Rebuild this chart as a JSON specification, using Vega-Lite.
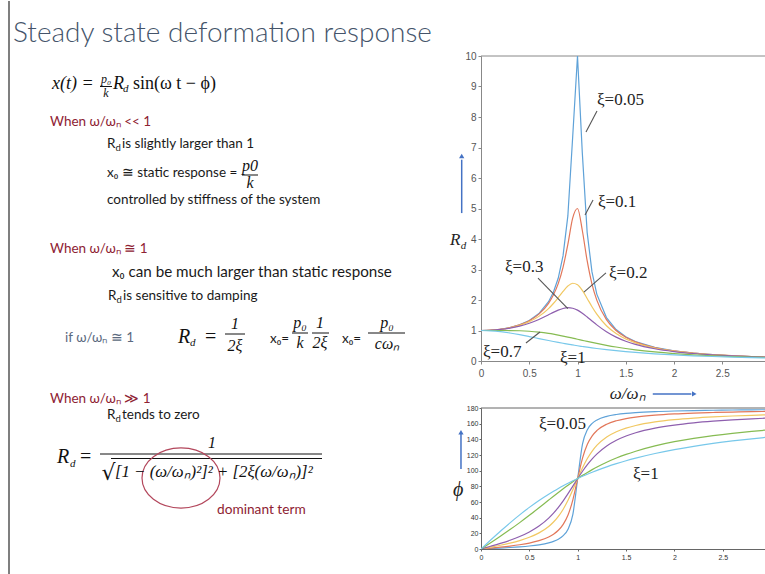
{
"$schema": "https://vega.github.io/schema/vega-lite/v6.json",
"padding": 0,
"background": "white",
"config": {"view": {"stroke": null}},
"datasets": {
"curves": [
{"z":"0.05","r":0,"R":1,"p":0},{"z":"0.05","r":0.1,"R":1.01,"p":0.58},{"z":"0.05","r":0.2,"R":1.041,"p":1.19},{"z":"0.05","r":0.3,"R":1.098,"p":1.89},{"z":"0.05","r":0.4,"R":1.189,"p":2.73},{"z":"0.05","r":0.5,"R":1.33,"p":3.81},{"z":"0.05","r":0.6,"R":1.556,"p":5.36},{"z":"0.05","r":0.7,"R":1.943,"p":7.82},{"z":"0.05","r":0.75,"R":2.253,"p":9.73},{"z":"0.05","r":0.8,"R":2.712,"p":12.53},{"z":"0.05","r":0.85,"R":3.446,"p":17.03},{"z":"0.05","r":0.9,"R":4.757,"p":25.35},{"z":"0.05","r":0.95,"R":7.346,"p":44.26},{"z":"0.05","r":1,"R":10,"p":90},{"z":"0.05","r":1.05,"R":6.815,"p":134.31},{"z":"0.05","r":1.1,"R":4.218,"p":152.35},{"z":"0.05","r":1.15,"R":2.921,"p":160.37},{"z":"0.05","r":1.2,"R":2.193,"p":164.74},{"z":"0.05","r":1.3,"R":1.424,"p":169.33},{"z":"0.05","r":1.4,"R":1.031,"p":171.7},{"z":"0.05","r":1.5,"R":0.794,"p":173.16},{"z":"0.05","r":1.6,"R":0.638,"p":174.14},{"z":"0.05","r":1.8,"R":0.445,"p":175.41},{"z":"0.05","r":2,"R":0.333,"p":176.19},{"z":"0.05","r":2.2,"R":0.26,"p":176.72},{"z":"0.05","r":2.4,"R":0.21,"p":177.11},{"z":"0.05","r":2.6,"R":0.173,"p":177.42},{"z":"0.05","r":2.8,"R":0.146,"p":177.66},{"z":"0.05","r":3,"R":0.125,"p":177.85},
{"z":"0.1","r":0,"R":1,"p":0},{"z":"0.1","r":0.1,"R":1.01,"p":1.16},{"z":"0.1","r":0.2,"R":1.041,"p":2.39},{"z":"0.1","r":0.3,"R":1.097,"p":3.77},{"z":"0.1","r":0.4,"R":1.185,"p":5.44},{"z":"0.1","r":0.5,"R":1.322,"p":7.59},{"z":"0.1","r":0.6,"R":1.536,"p":10.62},{"z":"0.1","r":0.7,"R":1.891,"p":15.35},{"z":"0.1","r":0.75,"R":2.162,"p":18.93},{"z":"0.1","r":0.8,"R":2.538,"p":23.96},{"z":"0.1","r":0.85,"R":3.073,"p":31.49},{"z":"0.1","r":0.9,"R":3.821,"p":43.45},{"z":"0.1","r":0.95,"R":4.683,"p":62.83},{"z":"0.1","r":1,"R":5,"p":90},{"z":"0.1","r":1.05,"R":4.279,"p":116.02},{"z":"0.1","r":1.1,"R":3.288,"p":133.67},{"z":"0.1","r":1.15,"R":2.524,"p":144.5},{"z":"0.1","r":1.2,"R":1.995,"p":151.39},{"z":"0.1","r":1.3,"R":1.356,"p":159.36},{"z":"0.1","r":1.4,"R":1,"p":163.74},{"z":"0.1","r":1.5,"R":0.778,"p":166.5},{"z":"0.1","r":1.6,"R":0.628,"p":168.41},{"z":"0.1","r":1.8,"R":0.441,"p":170.87},{"z":"0.1","r":2,"R":0.33,"p":172.41},{"z":"0.1","r":2.2,"R":0.259,"p":173.46},{"z":"0.1","r":2.4,"R":0.209,"p":174.24},{"z":"0.1","r":2.6,"R":0.173,"p":174.84},{"z":"0.1","r":2.8,"R":0.146,"p":175.32},{"z":"0.1","r":3,"R":0.125,"p":175.71},
{"z":"0.2","r":0,"R":1,"p":0},{"z":"0.2","r":0.1,"R":1.009,"p":2.31},{"z":"0.2","r":0.2,"R":1.038,"p":4.76},{"z":"0.2","r":0.3,"R":1.089,"p":7.51},{"z":"0.2","r":0.4,"R":1.169,"p":10.78},{"z":"0.2","r":0.5,"R":1.288,"p":14.93},{"z":"0.2","r":0.6,"R":1.463,"p":20.56},{"z":"0.2","r":0.7,"R":1.719,"p":28.77},{"z":"0.2","r":0.75,"R":1.885,"p":34.44},{"z":"0.2","r":0.8,"R":2.076,"p":41.63},{"z":"0.2","r":0.85,"R":2.279,"p":50.78},{"z":"0.2","r":0.9,"R":2.457,"p":62.18},{"z":"0.2","r":0.95,"R":2.549,"p":75.61},{"z":"0.2","r":1,"R":2.5,"p":90},{"z":"0.2","r":1.05,"R":2.313,"p":103.71},{"z":"0.2","r":1.1,"R":2.051,"p":115.51},{"z":"0.2","r":1.15,"R":1.78,"p":125.03},{"z":"0.2","r":1.2,"R":1.536,"p":132.51},{"z":"0.2","r":1.3,"R":1.157,"p":143},{"z":"0.2","r":1.4,"R":0.9,"p":149.74},{"z":"0.2","r":1.5,"R":0.721,"p":154.36},{"z":"0.2","r":1.6,"R":0.593,"p":157.69},{"z":"0.2","r":1.8,"R":0.425,"p":162.18},{"z":"0.2","r":2,"R":0.322,"p":165.07},{"z":"0.2","r":2.2,"R":0.254,"p":167.09},{"z":"0.2","r":2.4,"R":0.206,"p":168.6},{"z":"0.2","r":2.6,"R":0.171,"p":169.77},{"z":"0.2","r":2.8,"R":0.144,"p":170.7},{"z":"0.2","r":3,"R":0.124,"p":171.47},
{"z":"0.3","r":0,"R":1,"p":0},{"z":"0.3","r":0.1,"R":1.008,"p":3.47},{"z":"0.3","r":0.2,"R":1.034,"p":7.13},{"z":"0.3","r":0.3,"R":1.078,"p":11.19},{"z":"0.3","r":0.4,"R":1.145,"p":15.95},{"z":"0.3","r":0.5,"R":1.238,"p":21.8},{"z":"0.3","r":0.6,"R":1.362,"p":29.36},{"z":"0.3","r":0.7,"R":1.514,"p":39.47},{"z":"0.3","r":0.75,"R":1.593,"p":45.81},{"z":"0.3","r":0.8,"R":1.667,"p":53.13},{"z":"0.3","r":0.85,"R":1.722,"p":61.45},{"z":"0.3","r":0.9,"R":1.747,"p":70.62},{"z":"0.3","r":0.95,"R":1.729,"p":80.29},{"z":"0.3","r":1,"R":1.667,"p":90},{"z":"0.3","r":1.05,"R":1.567,"p":99.24},{"z":"0.3","r":1.1,"R":1.444,"p":107.65},{"z":"0.3","r":1.15,"R":1.313,"p":115.05},{"z":"0.3","r":1.2,"R":1.185,"p":121.43},{"z":"0.3","r":1.3,"R":0.96,"p":131.49},{"z":"0.3","r":1.4,"R":0.784,"p":138.81},{"z":"0.3","r":1.5,"R":0.649,"p":144.25},{"z":"0.3","r":1.6,"R":0.546,"p":148.39},{"z":"0.3","r":1.8,"R":0.402,"p":154.26},{"z":"0.3","r":2,"R":0.309,"p":158.2},{"z":"0.3","r":2.2,"R":0.246,"p":161.03},{"z":"0.3","r":2.4,"R":0.201,"p":163.17},{"z":"0.3","r":2.6,"R":0.168,"p":164.85},{"z":"0.3","r":2.8,"R":0.142,"p":166.2},{"z":"0.3","r":3,"R":0.122,"p":167.32},
{"z":"0.7","r":0,"R":1,"p":0},{"z":"0.7","r":0.1,"R":1,"p":8.05},{"z":"0.7","r":0.2,"R":1,"p":16.26},{"z":"0.7","r":0.3,"R":0.998,"p":24.78},{"z":"0.7","r":0.4,"R":0.991,"p":33.69},{"z":"0.7","r":0.5,"R":0.975,"p":43.03},{"z":"0.7","r":0.6,"R":0.947,"p":52.7},{"z":"0.7","r":0.7,"R":0.905,"p":62.51},{"z":"0.7","r":0.75,"R":0.879,"p":67.38},{"z":"0.7","r":0.8,"R":0.85,"p":72.18},{"z":"0.7","r":0.85,"R":0.818,"p":76.87},{"z":"0.7","r":0.9,"R":0.785,"p":81.43},{"z":"0.7","r":0.95,"R":0.75,"p":85.81},{"z":"0.7","r":1,"R":0.714,"p":90},{"z":"0.7","r":1.05,"R":0.679,"p":93.99},{"z":"0.7","r":1.1,"R":0.643,"p":97.77},{"z":"0.7","r":1.15,"R":0.609,"p":101.33},{"z":"0.7","r":1.2,"R":0.576,"p":104.68},{"z":"0.7","r":1.3,"R":0.514,"p":110.76},{"z":"0.7","r":1.4,"R":0.458,"p":116.09},{"z":"0.7","r":1.5,"R":0.409,"p":120.76},{"z":"0.7","r":1.6,"R":0.366,"p":124.85},{"z":"0.7","r":1.8,"R":0.297,"p":131.63},{"z":"0.7","r":2,"R":0.244,"p":136.97},{"z":"0.7","r":2.2,"R":0.203,"p":141.27},{"z":"0.7","r":2.4,"R":0.172,"p":144.78},{"z":"0.7","r":2.6,"R":0.147,"p":147.71},{"z":"0.7","r":2.8,"R":0.127,"p":150.18},{"z":"0.7","r":3,"R":0.111,"p":152.3},
{"z":"1","r":0,"R":1,"p":0},{"z":"1","r":0.1,"R":0.99,"p":11.42},{"z":"1","r":0.2,"R":0.962,"p":22.62},{"z":"1","r":0.3,"R":0.917,"p":33.4},{"z":"1","r":0.4,"R":0.862,"p":43.6},{"z":"1","r":0.5,"R":0.8,"p":53.13},{"z":"1","r":0.6,"R":0.735,"p":61.93},{"z":"1","r":0.7,"R":0.671,"p":69.98},{"z":"1","r":0.75,"R":0.64,"p":73.74},{"z":"1","r":0.8,"R":0.61,"p":77.32},{"z":"1","r":0.85,"R":0.581,"p":80.73},{"z":"1","r":0.9,"R":0.552,"p":83.97},{"z":"1","r":0.95,"R":0.526,"p":87.06},{"z":"1","r":1,"R":0.5,"p":90},{"z":"1","r":1.05,"R":0.476,"p":92.79},{"z":"1","r":1.1,"R":0.452,"p":95.45},{"z":"1","r":1.15,"R":0.431,"p":97.98},{"z":"1","r":1.2,"R":0.41,"p":100.39},{"z":"1","r":1.3,"R":0.372,"p":104.86},{"z":"1","r":1.4,"R":0.338,"p":108.92},{"z":"1","r":1.5,"R":0.308,"p":112.62},{"z":"1","r":1.6,"R":0.281,"p":115.99},{"z":"1","r":1.8,"R":0.236,"p":121.89},{"z":"1","r":2,"R":0.2,"p":126.87},{"z":"1","r":2.2,"R":0.171,"p":131.11},{"z":"1","r":2.4,"R":0.148,"p":134.76},{"z":"1","r":2.6,"R":0.129,"p":137.92},{"z":"1","r":2.8,"R":0.113,"p":140.69},{"z":"1","r":3,"R":0.1,"p":143.13}
],
"leftText": [
{"x":1.3,"y":4.1,"t":"Steady state deformation response","k":"title"},
{"x":5.2,"y":8.8,"t":"x(t) =","k":"mi"},
{"x":10.6,"y":8.2,"t":"p₀","k":"fs"},
{"x":10.6,"y":9.6,"t":"k","k":"fs"},
{"x":11.3,"y":8.8,"t":"R","k":"mi"},
{"x":12.3,"y":9.1,"t":"d","k":"ms"},
{"x":13.3,"y":8.8,"t":"sin(ω t − ϕ)","k":"mu"},
{"x":5.0,"y":12.5,"t":"When ω/ωₙ << 1","k":"head"},
{"x":10.7,"y":14.7,"t":"R","k":"body"},
{"x":11.55,"y":15.0,"t":"d","k":"bsub"},
{"x":12.2,"y":14.7,"t":"is slightly larger than 1","k":"body"},
{"x":10.7,"y":17.6,"t":"x₀ ≅ static response =","k":"body"},
{"x":25.0,"y":16.95,"t":"p0","k":"fc"},
{"x":25.0,"y":18.7,"t":"k","k":"fc"},
{"x":10.7,"y":20.25,"t":"controlled by stiffness of the system","k":"body"},
{"x":5.0,"y":25.2,"t":"When ω/ωₙ ≅ 1","k":"head"},
{"x":11.2,"y":27.6,"t":"x₀ can be much larger than static response","k":"bodyL"},
{"x":10.8,"y":29.9,"t":"R","k":"body"},
{"x":11.65,"y":30.2,"t":"d","k":"bsub"},
{"x":12.3,"y":29.9,"t":"is sensitive to damping","k":"body"},
{"x":6.5,"y":34.1,"t":"if ω/ωₙ ≅ 1","k":"gray"},
{"x":17.8,"y":34.2,"t":"R","k":"mb"},
{"x":19.0,"y":34.5,"t":"d","k":"ms"},
{"x":20.5,"y":34.2,"t":"=","k":"mbu"},
{"x":23.5,"y":32.8,"t":"1","k":"fc"},
{"x":23.5,"y":35.0,"t":"2ξ","k":"fc"},
{"x":27.0,"y":34.2,"t":"x₀=","k":"body"},
{"x":30.0,"y":32.7,"t":"p₀","k":"fc"},
{"x":30.0,"y":34.7,"t":"k","k":"fc"},
{"x":32.0,"y":32.7,"t":"1","k":"fc"},
{"x":32.0,"y":34.7,"t":"2ξ","k":"fc"},
{"x":34.2,"y":34.2,"t":"x₀=","k":"body"},
{"x":38.7,"y":32.7,"t":"p₀","k":"fc"},
{"x":38.7,"y":34.8,"t":"cωₙ","k":"fc"},
{"x":5.0,"y":40.15,"t":"When ω/ωₙ ≫ 1","k":"head"},
{"x":10.7,"y":41.75,"t":"R","k":"body"},
{"x":11.55,"y":42.05,"t":"d","k":"bsub"},
{"x":12.2,"y":41.75,"t":"tends to zero","k":"body"},
{"x":5.7,"y":46.2,"t":"R","k":"mb"},
{"x":7.0,"y":46.6,"t":"d","k":"ms"},
{"x":8.0,"y":46.2,"t":"=","k":"mbu"},
{"x":21.2,"y":44.7,"t":"1","k":"fc"},
{"x":10.15,"y":47.9,"t":"√","k":"sq"},
{"x":11.5,"y":47.6,"t":"[1 − (ω/ωₙ)²]² + [2ξ(ω/ωₙ)]²","k":"den"},
{"x":21.7,"y":51.3,"t":"dominant term","k":"note"}
],
"leftBars": [
{"x":10.0,"x2":11.2,"y":8.55},
{"x":24.2,"x2":25.8,"y":17.4},
{"x":22.5,"x2":24.5,"y":33.3},
{"x":29.2,"x2":30.8,"y":33.2},
{"x":31.2,"x2":32.9,"y":33.2},
{"x":36.8,"x2":40.5,"y":33.2},
{"x":10.0,"x2":32.2,"y":45.3},
{"x":11.1,"x2":32.2,"y":45.75}
],
"topTicks": [{"r":0.5},{"r":1},{"r":1.5},{"r":2},{"r":2.5}],
"topLab": [
{"r":1.202,"R":8.39,"t":"ξ=0.05"},
{"r":1.212,"R":5.05,"t":"ξ=0.1"},
{"r":0.249,"R":2.92,"t":"ξ=0.3"},
{"r":1.326,"R":2.72,"t":"ξ=0.2"},
{"r":0.021,"R":0.13,"t":"ξ=0.7"},
{"r":0.819,"R":-0.07,"t":"ξ=1"}
],
"topLead": [
{"r":1.088,"R":7.51,"r2":1.202,"R2":8.2},
{"r":1.078,"R":4.79,"r2":1.161,"R2":5.28},
{"r":0.591,"R":2.72,"r2":0.9,"R2":1.72},
{"r":1.295,"R":2.89,"r2":1.067,"R2":2.26},
{"r":0.466,"R":0.59,"r2":0.611,"R2":0.95}
],
"topArrow": [
{"r":-0.2,"R":4.85,"r2":-0.2,"R2":6.6},
{"r":1.78,"R":-1.08,"r2":2.18,"R2":-1.08}
],
"topHead": [
{"r":-0.2,"R":6.72,"dir":"up"},
{"r":2.21,"R":-1.08,"dir":"right"}
],
"topTitle": [
{"r":-0.321,"R":3.8,"t":"R","k":"big"},
{"r":-0.21,"R":3.68,"t":"d","k":"sub"},
{"r":1.52,"R":-1.25,"t":"ω/ωₙ","k":"c"}
],
"botLab": [
{"r":0.6,"p":153.2,"t":"ξ=0.05"},
{"r":1.572,"p":89.4,"t":"ξ=1"}
]
},
"spacing": 10,
"hconcat": [
{
"width": 440, "height": 574,
"encoding": {
"x": {"field":"x","type":"quantitative","scale":{"domain":[0,44],"nice":false,"zero":false},"axis":null},
"y": {"field":"y","type":"quantitative","scale":{"domain":[0,57.4],"nice":false,"zero":false,"reverse":true},"axis":null}
},
"layer": [
{"data":{"values":[{"x":0.9,"y":0,"y2":57.4}]},"mark":{"type":"rule","color":"#555","strokeWidth":1.5},"encoding":{"y2":{"field":"y2"}}},
{"data":{"name":"leftBars"},"mark":{"type":"rule","color":"#111","strokeWidth":1},"encoding":{"x2":{"field":"x2"}}},
{"data":{"values":[{"x":18.1,"y":47.7}]},"mark":{"type":"point","shape":"M -1 0 A 1 0.77 0 1 1 1 0 A 1 0.77 0 1 1 -1 0 Z","filled":false,"color":"#b3475c","strokeWidth":1.2,"size":6084,"opacity":1},"encoding":{}},
{"data":{"name":"leftText"},"transform":[{"filter":"datum.k == 'title'"}],"mark":{"type":"text","align":"left","baseline":"alphabetic","font":"Lato","fontWeight":300,"fontSize":28,"color":"#44546a"},"encoding":{"text":{"field":"t"}}},
{"data":{"name":"leftText"},"transform":[{"filter":"datum.k == 'head'"}],"mark":{"type":"text","align":"left","baseline":"alphabetic","font":"Lato","fontSize":13.5,"color":"#8e2232"},"encoding":{"text":{"field":"t"}}},
{"data":{"name":"leftText"},"transform":[{"filter":"datum.k == 'body'"}],"mark":{"type":"text","align":"left","baseline":"alphabetic","font":"Lato","fontSize":13.5,"color":"#1a1a1a"},"encoding":{"text":{"field":"t"}}},
{"data":{"name":"leftText"},"transform":[{"filter":"datum.k == 'bodyL'"}],"mark":{"type":"text","align":"left","baseline":"alphabetic","font":"Lato","fontSize":15.2,"color":"#1a1a1a"},"encoding":{"text":{"field":"t"}}},
{"data":{"name":"leftText"},"transform":[{"filter":"datum.k == 'bsub'"}],"mark":{"type":"text","align":"left","baseline":"alphabetic","font":"Lato","fontSize":9.5,"color":"#1a1a1a"},"encoding":{"text":{"field":"t"}}},
{"data":{"name":"leftText"},"transform":[{"filter":"datum.k == 'gray'"}],"mark":{"type":"text","align":"left","baseline":"alphabetic","font":"Lato","fontSize":13.5,"color":"#5b6a80"},"encoding":{"text":{"field":"t"}}},
{"data":{"name":"leftText"},"transform":[{"filter":"datum.k == 'note'"}],"mark":{"type":"text","align":"left","baseline":"alphabetic","font":"Lato","fontSize":13.7,"color":"#8e2232"},"encoding":{"text":{"field":"t"}}},
{"data":{"name":"leftText"},"transform":[{"filter":"datum.k == 'mi'"}],"mark":{"type":"text","align":"left","baseline":"alphabetic","font":"Liberation Serif","fontStyle":"italic","fontSize":18,"color":"#111"},"encoding":{"text":{"field":"t"}}},
{"data":{"name":"leftText"},"transform":[{"filter":"datum.k == 'mu'"}],"mark":{"type":"text","align":"left","baseline":"alphabetic","font":"Liberation Serif","fontSize":18,"color":"#111"},"encoding":{"text":{"field":"t"}}},
{"data":{"name":"leftText"},"transform":[{"filter":"datum.k == 'ms'"}],"mark":{"type":"text","align":"left","baseline":"alphabetic","font":"Liberation Serif","fontStyle":"italic","fontSize":11,"color":"#111"},"encoding":{"text":{"field":"t"}}},
{"data":{"name":"leftText"},"transform":[{"filter":"datum.k == 'fc'"}],"mark":{"type":"text","align":"center","baseline":"alphabetic","font":"Liberation Serif","fontStyle":"italic","fontSize":16,"color":"#111"},"encoding":{"text":{"field":"t"}}},
{"data":{"name":"leftText"},"transform":[{"filter":"datum.k == 'fs'"}],"mark":{"type":"text","align":"center","baseline":"alphabetic","font":"Liberation Serif","fontStyle":"italic","fontSize":12,"color":"#111"},"encoding":{"text":{"field":"t"}}},
{"data":{"name":"leftText"},"transform":[{"filter":"datum.k == 'mb'"}],"mark":{"type":"text","align":"left","baseline":"alphabetic","font":"Liberation Serif","fontStyle":"italic","fontSize":20,"color":"#111"},"encoding":{"text":{"field":"t"}}},
{"data":{"name":"leftText"},"transform":[{"filter":"datum.k == 'mbu'"}],"mark":{"type":"text","align":"left","baseline":"alphabetic","font":"Liberation Serif","fontSize":20,"color":"#111"},"encoding":{"text":{"field":"t"}}},
{"data":{"name":"leftText"},"transform":[{"filter":"datum.k == 'sq'"}],"mark":{"type":"text","align":"left","baseline":"alphabetic","font":"DejaVu Serif","fontSize":22,"color":"#111"},"encoding":{"text":{"field":"t"}}},
{"data":{"name":"leftText"},"transform":[{"filter":"datum.k == 'den'"}],"mark":{"type":"text","align":"left","baseline":"alphabetic","font":"Liberation Serif","fontStyle":"italic","fontSize":16.8,"color":"#111"},"encoding":{"text":{"field":"t"}}}
]
},
{
"columns": 1,
"spacing": 1,
"concat": [
{"width": 284, "height": 49, "data": {"values": []}, "mark": "point"},
{
"width": 284, "height": 305,
"encoding": {
"x": {"field":"r","type":"quantitative","scale":{"domain":[0,2.943],"nice":false,"zero":false},"axis":{"values":[0,0.5,1,1.5,2,2.5],"format":"~g","title":null,"grid":false,"labelFont":"Liberation Sans","labelFontSize":10,"labelColor":"#555","domainColor":"#888","tickColor":"#888","tickSize":3,"labelPadding":4,"labelFlush":false}},
"y": {"field":"R","type":"quantitative","scale":{"domain":[0,10],"nice":false,"zero":false},"axis":{"values":[0,1,2,3,4,5,6,7,8,9,10],"title":null,"grid":false,"labelFont":"Liberation Sans","labelFontSize":10,"labelColor":"#555","domainColor":"#888","tickColor":"#888","tickSize":3,"labelPadding":2}}
},
"layer": [
{"data":{"values":[{"r":0,"R":10,"r2":2.943}]},"mark":{"type":"rule","color":"#888","strokeWidth":1},"encoding":{"x2":{"field":"r2"}}},
{"data":{"name":"topTicks"},"mark":{"type":"rule","color":"#888","strokeWidth":1},"encoding":{"y":{"datum":10},"y2":{"datum":9.88}}},
{"data":{"name":"curves"},"transform":[{"filter":"datum.z == '0.05'"}],"mark":{"type":"line","clip":true,"strokeWidth":1.2,"interpolate":"linear"},"encoding":{"color":{"field":"z","type":"nominal","scale":{"domain":["0.05","0.1","0.2","0.3","0.7","1"],"range":["#5fa2d8","#e2775a","#f1c862","#8e5fae","#86bb52","#78c8ea"]},"legend":null}}},
{"data":{"name":"curves"},"transform":[{"filter":"datum.z != '0.05'"}],"mark":{"type":"line","clip":true,"strokeWidth":1.2,"interpolate":"monotone"},"encoding":{"color":{"field":"z","type":"nominal","scale":{"domain":["0.05","0.1","0.2","0.3","0.7","1"],"range":["#5fa2d8","#e2775a","#f1c862","#8e5fae","#86bb52","#78c8ea"]},"legend":null}}},
{"data":{"name":"topLead"},"mark":{"type":"rule","color":"#555","strokeWidth":1.1},"encoding":{"x2":{"field":"r2"},"y2":{"field":"R2"}}},
{"data":{"name":"topLab"},"mark":{"type":"text","align":"left","baseline":"alphabetic","font":"Liberation Serif","fontSize":17,"color":"#222"},"encoding":{"text":{"field":"t"}}},
{"data":{"name":"topArrow"},"mark":{"type":"rule","color":"#4472c4","strokeWidth":1.5},"encoding":{"x2":{"field":"r2"},"y2":{"field":"R2"}}},
{"data":{"name":"topHead"},"transform":[{"filter":"datum.dir == 'up'"}],"mark":{"type":"point","shape":"triangle-up","filled":true,"color":"#4472c4","size":28,"opacity":1},"encoding":{}},
{"data":{"name":"topHead"},"transform":[{"filter":"datum.dir == 'right'"}],"mark":{"type":"point","shape":"triangle-right","filled":true,"color":"#4472c4","size":28,"opacity":1},"encoding":{}},
{"data":{"name":"topTitle"},"transform":[{"filter":"datum.k == 'big'"}],"mark":{"type":"text","align":"left","baseline":"alphabetic","font":"Liberation Serif","fontStyle":"italic","fontSize":17,"color":"#222"},"encoding":{"text":{"field":"t"}}},
{"data":{"name":"topTitle"},"transform":[{"filter":"datum.k == 'sub'"}],"mark":{"type":"text","align":"left","baseline":"alphabetic","font":"Liberation Serif","fontStyle":"italic","fontSize":11,"color":"#222"},"encoding":{"text":{"field":"t"}}},
{"data":{"name":"topTitle"},"transform":[{"filter":"datum.k == 'c'"}],"mark":{"type":"text","align":"center","baseline":"alphabetic","font":"Liberation Serif","fontStyle":"italic","fontSize":17,"color":"#222"},"encoding":{"text":{"field":"t"}}}
]
},
{
"width": 284, "height": 141,
"encoding": {
"x": {"field":"r","type":"quantitative","scale":{"domain":[0,2.937],"nice":false,"zero":false},"axis":{"values":[0,0.5,1,1.5,2,2.5],"format":"~g","title":null,"grid":false,"labelFont":"Liberation Sans","labelFontSize":7,"labelColor":"#333","domainColor":"#666","tickColor":"#666","tickSize":2,"labelPadding":2,"labelFlush":false}},
"y": {"field":"p","type":"quantitative","scale":{"domain":[0,180],"nice":false,"zero":false},"axis":{"values":[0,20,40,60,80,100,120,140,160,180],"title":null,"grid":false,"labelFont":"Liberation Sans","labelFontSize":7,"labelColor":"#333","domainColor":"#666","tickColor":"#666","tickSize":2,"labelPadding":1}}
},
"layer": [
{"data":{"values":[{"r":0,"p":180,"r2":2.937}]},"mark":{"type":"rule","color":"#666","strokeWidth":1},"encoding":{"x2":{"field":"r2"}}},
{"data":{"name":"curves"},"mark":{"type":"line","clip":true,"strokeWidth":1.2,"interpolate":"monotone"},"encoding":{"color":{"field":"z","type":"nominal","scale":{"domain":["0.05","0.1","0.2","0.3","0.7","1"],"range":["#5fa2d8","#e2775a","#f1c862","#8e5fae","#86bb52","#78c8ea"]},"legend":null}}},
{"data":{"name":"botLab"},"mark":{"type":"text","align":"left","baseline":"alphabetic","font":"Liberation Serif","fontSize":17,"color":"#222"},"encoding":{"text":{"field":"t"}}},
{"data":{"values":[{"r":-0.207,"p":102,"p2":147}]},"mark":{"type":"rule","color":"#4472c4","strokeWidth":1.5},"encoding":{"y2":{"field":"p2"}}},
{"data":{"values":[{"r":-0.207,"p":149}]},"mark":{"type":"point","shape":"triangle-up","filled":true,"color":"#4472c4","size":28,"opacity":1},"encoding":{}},
{"data":{"values":[{"r":-0.29,"p":67.7,"t":"ϕ"}]},"mark":{"type":"text","align":"left","baseline":"alphabetic","font":"Liberation Serif","fontStyle":"italic","fontSize":20,"color":"#222"},"encoding":{"text":{"field":"t"}}}
]
}
]
}
]
}
